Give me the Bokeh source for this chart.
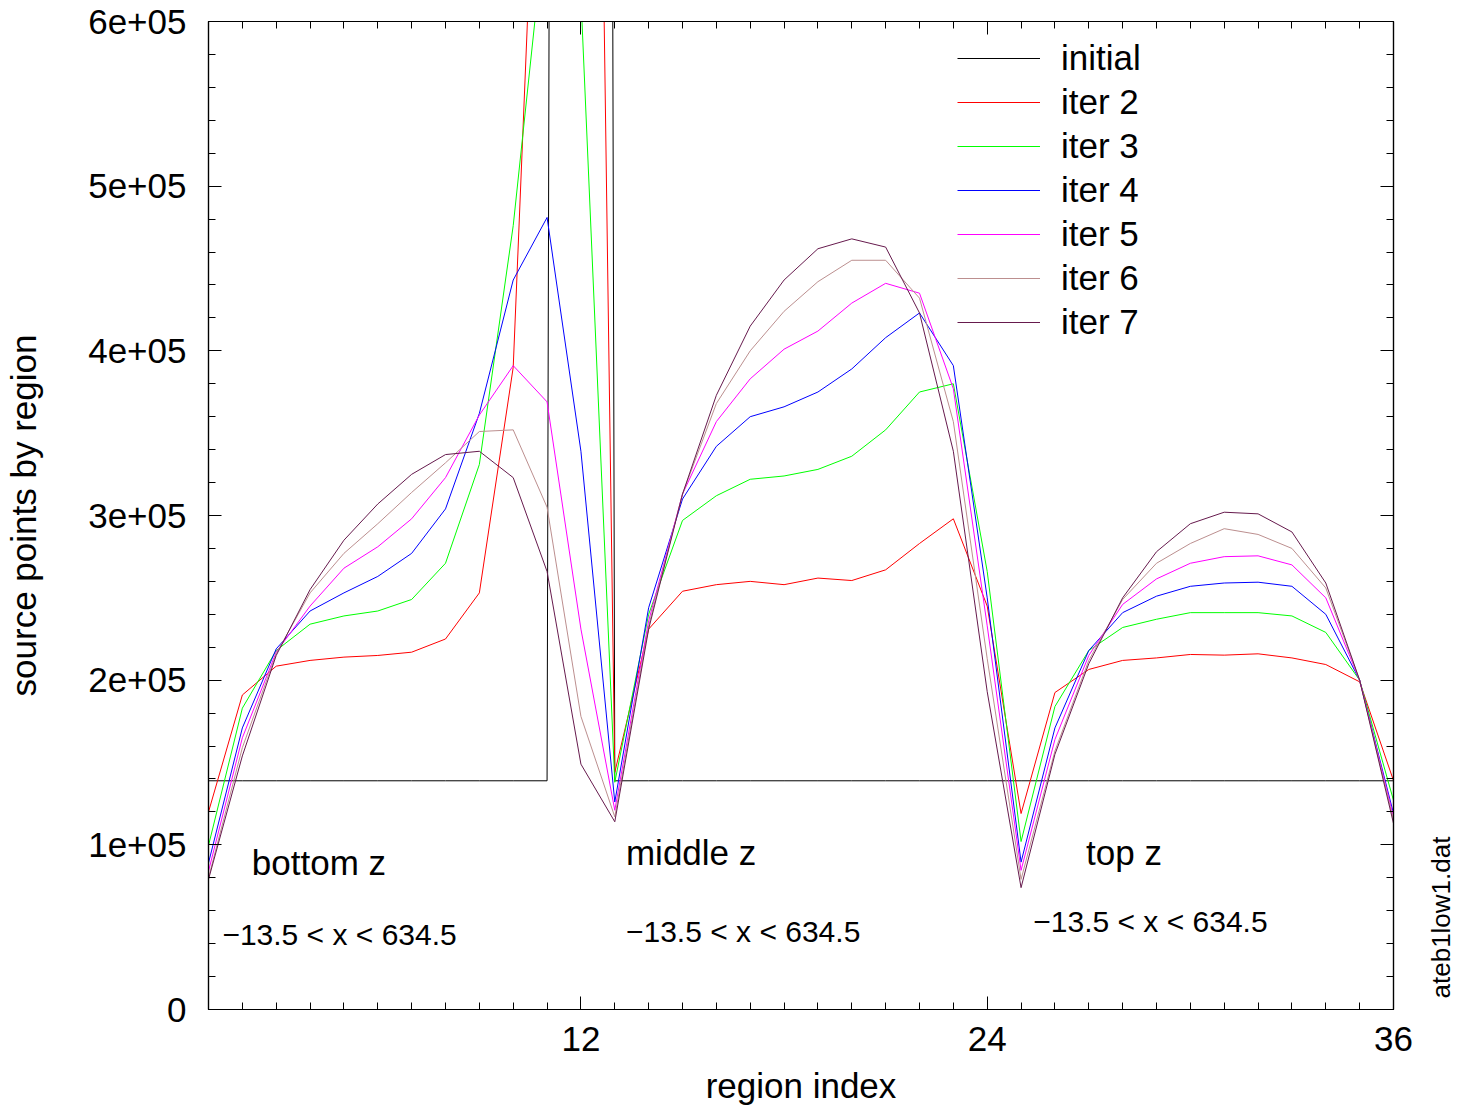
import math
from bokeh.plotting import figure
from bokeh.layouts import row
from bokeh.models import (FixedTicker, LinearAxis, Legend, LegendItem, Label, Range1d)
from bokeh.embed import file_html
from bokeh.resources import INLINE

region = list(range(1, 37))

initial = [138889] * 11 + [8.0e6] + [138889] * 24

iter2 = [1.20e5, 1.91e5, 2.085e5, 2.12e5, 2.14e5, 2.15e5, 2.17e5, 2.25e5, 2.53e5, 3.90e5, 8.9e5, 1.6e6,
         1.44e5, 2.31e5, 2.54e5, 2.58e5, 2.60e5, 2.58e5, 2.62e5, 2.605e5, 2.67e5, 2.83e5, 2.98e5, 2.45e5,
         1.19e5, 1.925e5, 2.065e5, 2.12e5, 2.135e5, 2.156e5, 2.152e5, 2.16e5, 2.135e5, 2.095e5, 1.99e5, 1.39e5]

iter3 = [0.996e5, 1.83e5, 2.18e5, 2.34e5, 2.39e5, 2.42e5, 2.49e5, 2.71e5, 3.31e5, 4.76e5, 6.7e5, 6.15e5,
         1.38e5, 2.40e5, 2.97e5, 3.12e5, 3.22e5, 3.24e5, 3.28e5, 3.36e5, 3.52e5, 3.75e5, 3.80e5, 2.66e5,
         1.02e5, 1.84e5, 2.18e5, 2.32e5, 2.37e5, 2.41e5, 2.41e5, 2.41e5, 2.39e5, 2.29e5, 2.0e5, 1.27e5]

iter4 = [0.89e5, 1.71e5, 2.19e5, 2.42e5, 2.53e5, 2.63e5, 2.77e5, 3.04e5, 3.62e5, 4.43e5, 4.81e5, 3.39e5,
         1.26e5, 2.44e5, 3.10e5, 3.42e5, 3.60e5, 3.66e5, 3.75e5, 3.89e5, 4.08e5, 4.23e5, 3.91e5, 2.50e5,
         0.895e5, 1.71e5, 2.18e5, 2.41e5, 2.51e5, 2.57e5, 2.59e5, 2.595e5, 2.57e5, 2.40e5, 2.0e5, 1.19e5]

iter5 = [0.84e5, 1.65e5, 2.17e5, 2.45e5, 2.68e5, 2.81e5, 2.98e5, 3.23e5, 3.61e5, 3.91e5, 3.69e5, 2.31e5,
         1.21e5, 2.36e5, 3.13e5, 3.57e5, 3.83e5, 4.01e5, 4.12e5, 4.29e5, 4.41e5, 4.35e5, 3.77e5, 2.33e5,
         0.845e5, 1.64e5, 2.15e5, 2.46e5, 2.615e5, 2.71e5, 2.75e5, 2.755e5, 2.70e5, 2.50e5, 2.0e5, 1.17e5]

iter6 = [0.80e5, 1.59e5, 2.16e5, 2.53e5, 2.77e5, 2.95e5, 3.14e5, 3.32e5, 3.51e5, 3.52e5, 3.05e5, 1.78e5,
         1.17e5, 2.33e5, 3.13e5, 3.68e5, 4.00e5, 4.24e5, 4.42e5, 4.55e5, 4.55e5, 4.32e5, 3.57e5, 2.13e5,
         0.79e5, 1.57e5, 2.12e5, 2.49e5, 2.71e5, 2.83e5, 2.92e5, 2.885e5, 2.80e5, 2.56e5, 2.0e5, 1.15e5]

iter7 = [0.79e5, 1.54e5, 2.15e5, 2.55e5, 2.85e5, 3.07e5, 3.25e5, 3.37e5, 3.39e5, 3.23e5, 2.66e5, 1.49e5,
         1.14e5, 2.31e5, 3.13e5, 3.73e5, 4.15e5, 4.43e5, 4.62e5, 4.68e5, 4.63e5, 4.23e5, 3.39e5, 1.93e5,
         0.74e5, 1.55e5, 2.10e5, 2.50e5, 2.78e5, 2.95e5, 3.02e5, 3.01e5, 2.90e5, 2.59e5, 2.0e5, 1.13e5]

series_names = ["initial", "iter 2", "iter 3", "iter 4", "iter 5", "iter 6", "iter 7"]
series_values = [initial, iter2, iter3, iter4, iter5, iter6, iter7]
series_colors = ["#000000", "#ff0000", "#00ff00", "#0000ff", "#ff00ff", "#bc8f8f", "#661a4d"]

y_ticks = [0, 100000, 200000, 300000, 400000, 500000, 600000]
y_tick_labels = ["0", "1e+05", "2e+05", "3e+05", "4e+05", "5e+05", "6e+05"]
x_ticks = [12, 24, 36]

FONT = "Liberation Sans"
BIG = "35px"

p = figure(width=1420, height=1107, output_backend="svg", toolbar_location=None,
           x_range=Range1d(1, 36), y_range=Range1d(0, 600000),
           min_border_left=208, min_border_right=27, min_border_top=21, min_border_bottom=98)
p.xaxis.visible = False
p.yaxis.visible = False
p.xgrid.visible = False
p.ygrid.visible = False
p.outline_line_color = "black"
p.outline_line_width = 1.2
p.background_fill_color = "white"
p.border_fill_color = "white"

xt = FixedTicker(ticks=x_ticks, minor_ticks=list(range(1, 37)))
yt = FixedTicker(ticks=y_ticks, minor_ticks=list(range(0, 600001, 20000)))


def style_axis(ax, show_labels):
    ax.major_tick_in = 13
    ax.major_tick_out = 0
    ax.minor_tick_in = 7
    ax.minor_tick_out = 0
    ax.major_tick_line_color = "black"
    ax.minor_tick_line_color = "black"
    ax.axis_line_color = "black"
    ax.axis_line_width = 1.2
    ax.major_label_text_font = FONT
    if show_labels:
        ax.major_label_text_font_size = BIG
        ax.major_label_text_color = "black"
    else:
        ax.major_label_text_font_size = "1px"
        ax.major_label_text_color = None
        ax.major_label_standoff = 0
    ax.axis_label_text_font = FONT
    ax.axis_label_text_font_size = BIG
    ax.axis_label_text_font_style = "normal"
    ax.axis_label_text_color = "black"


xb = LinearAxis(ticker=xt, axis_label="region index")
style_axis(xb, True)
xb.major_label_standoff = 17
xb.axis_label_standoff = 12
p.add_layout(xb, "below")

xa = LinearAxis(ticker=xt)
style_axis(xa, False)
p.add_layout(xa, "above")

yl = LinearAxis(ticker=yt, axis_label="source points by region")
style_axis(yl, True)
yl.major_label_overrides = {t: s for t, s in zip(y_ticks, y_tick_labels)}
yl.major_label_standoff = 22
yl.axis_label_standoff = 42
p.add_layout(yl, "left")

yr = LinearAxis(ticker=yt)
style_axis(yr, False)
p.add_layout(yr, "right")

items = []
for name, vals, col in zip(series_names, series_values, series_colors):
    r = p.line(region, vals, line_color=col, line_width=1)
    items.append(LegendItem(label=name, renderers=[r]))

legend = Legend(items=items, location=(749, 667), border_line_color=None,
                background_fill_alpha=0, padding=0, margin=0, spacing=4,
                glyph_width=83, glyph_height=40, label_height=40, label_standoff=21,
                label_text_font=FONT, label_text_font_size=BIG, label_text_color="black")
p.add_layout(legend, "center")

ann = [
    ("bottom z", 2.28, 89300, BIG),
    ("\u221213.5 < x < 634.5", 1.41, 45500, "30px"),
    ("middle z", 13.33, 95300, BIG),
    ("\u221213.5 < x < 634.5", 13.33, 47400, "30px"),
    ("top z", 26.92, 95300, BIG),
    ("\u221213.5 < x < 634.5", 25.36, 53400, "30px"),
]
for txt, x, y, fs in ann:
    p.add_layout(Label(x=x, y=y, text=txt, text_font=FONT, text_font_size=fs,
                       text_align="left", text_baseline="middle", text_color="black"))

# narrow side panel carrying the rotated file name (shares the main y scale)
side = figure(width=41, height=1107, output_backend="svg", toolbar_location=None,
              x_range=Range1d(0, 41), y_range=Range1d(0, 600000),
              min_border_left=0, min_border_right=0, min_border_top=21, min_border_bottom=98)
side.axis.visible = False
side.grid.visible = False
side.outline_line_color = None
side.background_fill_color = "white"
side.border_fill_color = "white"
side.add_layout(Label(x=20, y=6700, text="ateb1low1.dat", angle=math.pi / 2,
                      text_font=FONT, text_font_size="26px", text_align="left",
                      text_baseline="middle", text_color="black"))

layout = row(p, side, spacing=0)
open("out.html", "w").write(file_html(layout, INLINE))
